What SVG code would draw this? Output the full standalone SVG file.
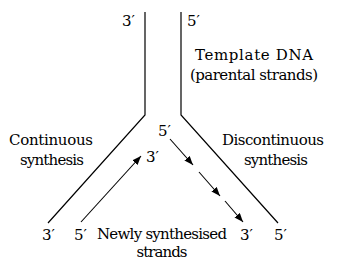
<svg xmlns="http://www.w3.org/2000/svg" width="345" height="271" viewBox="0 0 345 271">
<defs>
<marker id="ah" markerUnits="userSpaceOnUse" markerWidth="10" markerHeight="8" refX="9" refY="3.5" orient="auto">
<path d="M0,0 L9,3.5 L0,7 Z" fill="#000"/>
</marker>
<style>
.m{text-anchor:middle}
.s{fill:none;stroke:#000;stroke-width:1.2}
.a{fill:none;stroke:#000;stroke-width:1.1;marker-end:url(#ah)}
</style>
</defs>
<rect width="345" height="271" fill="#fff"/>
<g id="connectors">
<polyline class="s" points="145,12 145,115 48,223"/>
<polyline class="s" points="181,12 181,115 278,223"/>
<line class="a" x1="81" y1="222" x2="141" y2="156"/>
<line class="a" x1="170" y1="139" x2="193" y2="165"/>
<line class="a" x1="199" y1="172" x2="220" y2="196"/>
<line class="a" x1="225" y1="201" x2="243" y2="222"/>
</g>
<g font-family="'DejaVu Serif', 'Liberation Serif', serif" font-size="15" fill="#000">
<g id="labels-top">
<text x="122" y="26">3′</text>
<text x="187" y="26">5′</text>
</g>
<g id="template">
<text class="m" x="254" y="60" textLength="118">Template DNA</text>
<text class="m" x="254" y="80" textLength="128">(parental strands)</text>
</g>
<g id="continuous">
<text class="m" x="51" y="145" textLength="84">Continuous</text>
<text class="m" x="52" y="165" textLength="64">synthesis</text>
</g>
<g id="discontinuous">
<text class="m" x="273" y="145" textLength="102">Discontinuous</text>
<text class="m" x="276" y="165" textLength="64">synthesis</text>
</g>
<g id="fork-labels">
<text x="158" y="136">5′</text>
<text x="146" y="162">3′</text>
</g>
<g id="bottom-labels">
<text x="42" y="240">3′</text>
<text x="74" y="240">5′</text>
<text x="240" y="240">3′</text>
<text x="274" y="240">5′</text>
</g>
<g id="newly">
<text class="m" x="162" y="239" textLength="130">Newly synthesised</text>
<text class="m" x="162" y="257" textLength="51">strands</text>
</g>
</g>
</svg>
